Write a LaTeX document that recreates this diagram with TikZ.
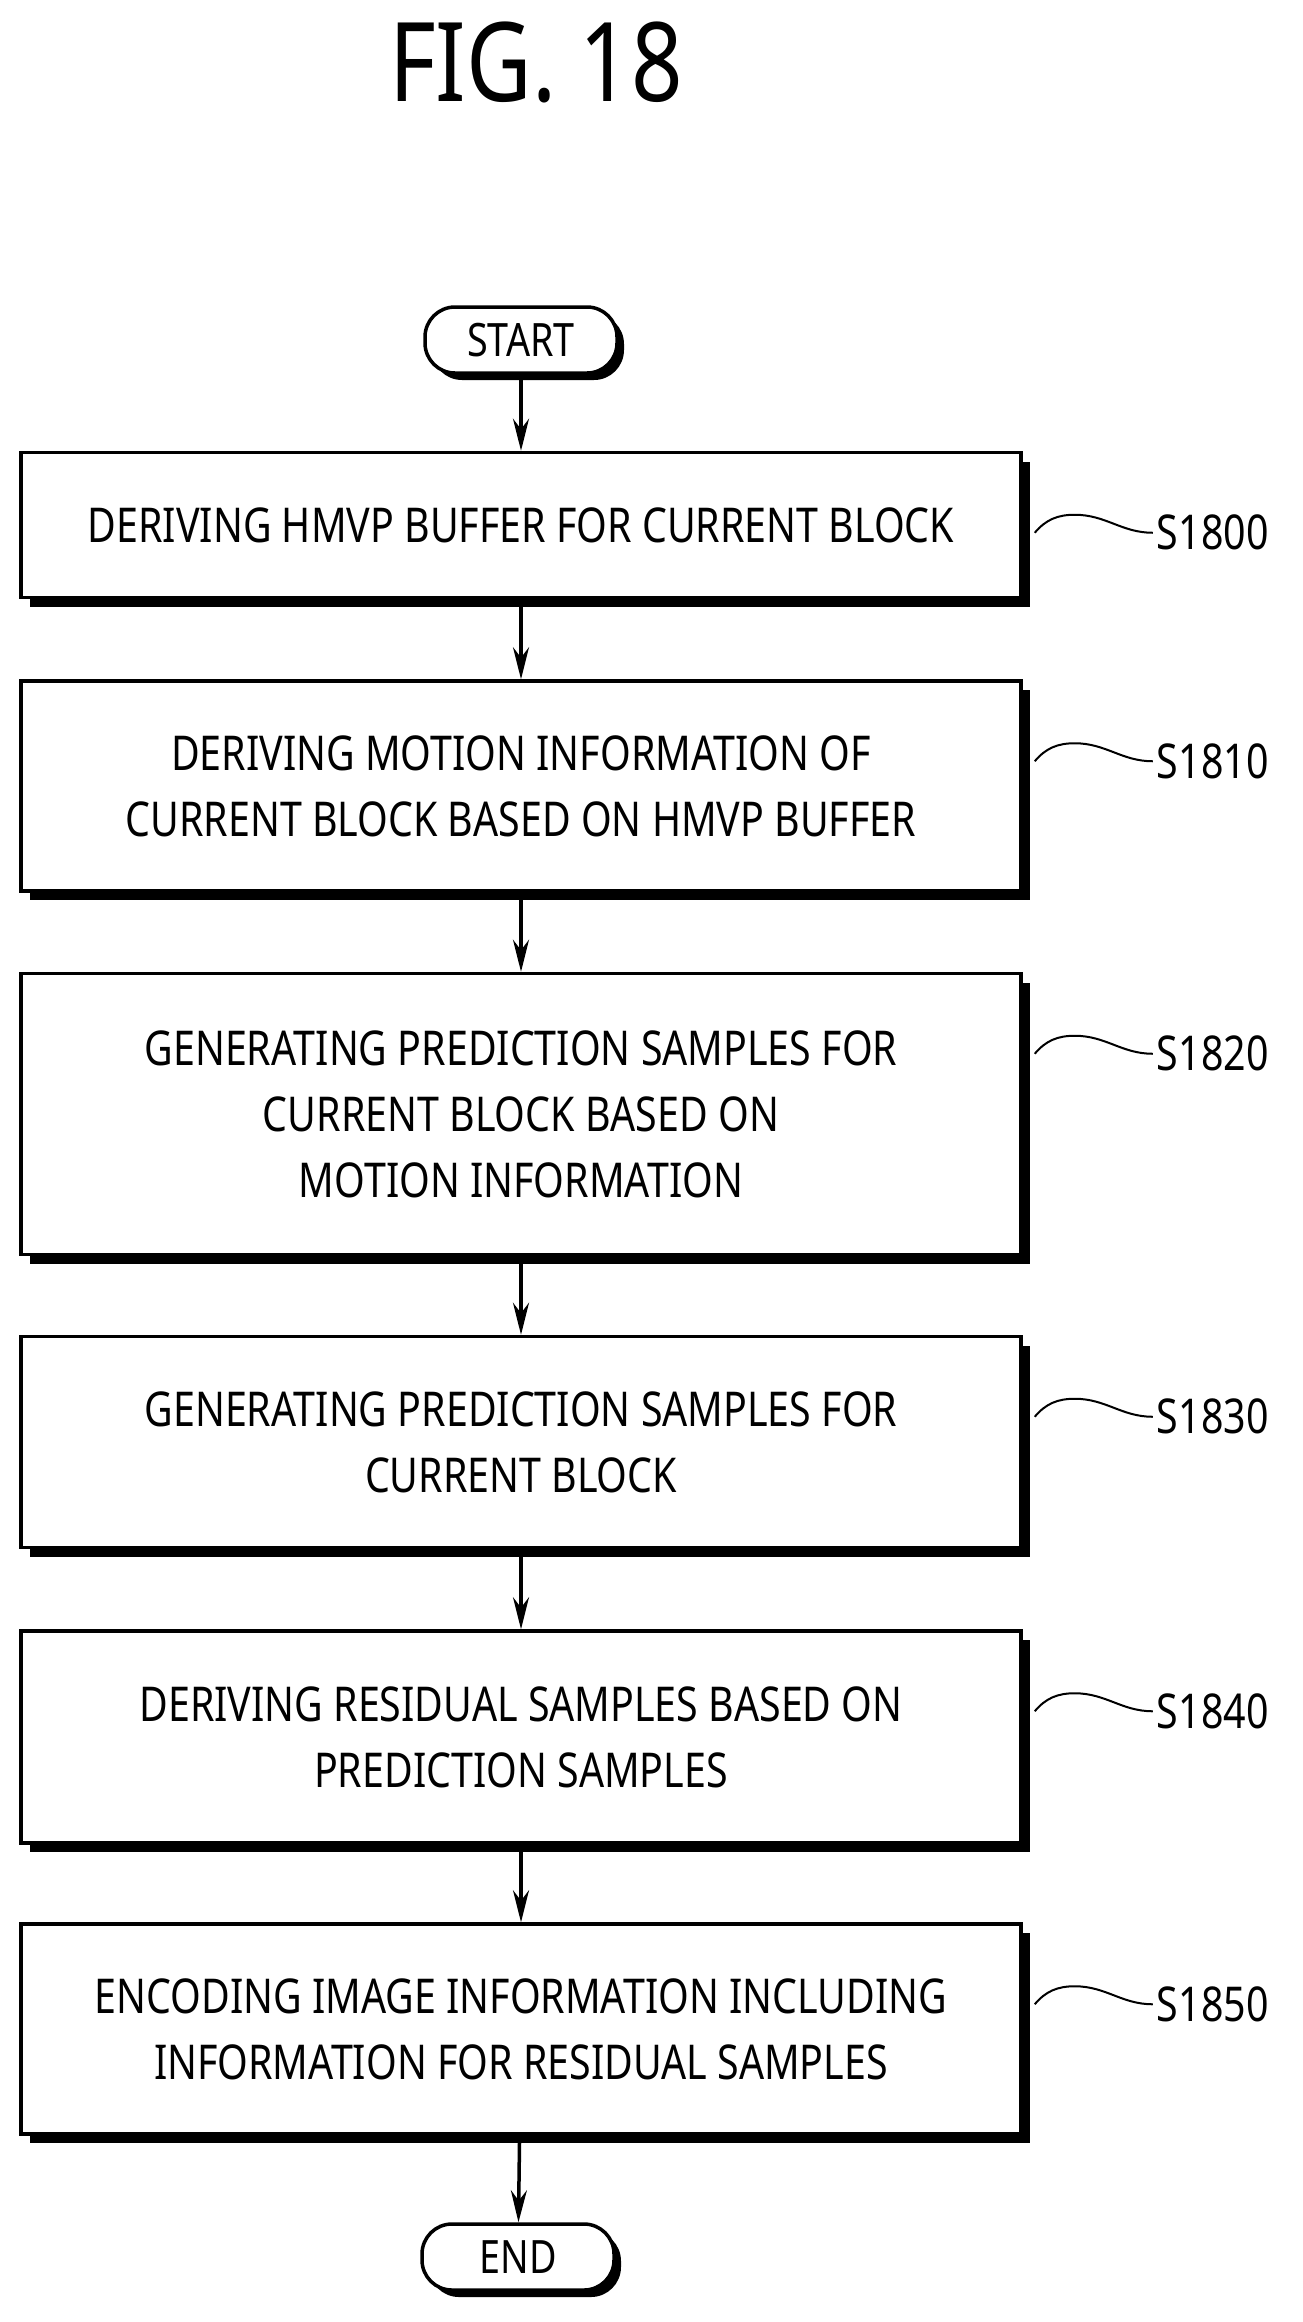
\documentclass[tikz,border=0pt]{standalone}
\usepackage{fontspec}
\setmainfont{Noto Sans}[FakeStretch=0.82]
\usetikzlibrary{arrows.meta,shadows,positioning}

\tikzset{
  stepbox/.style={draw,line width=3.5pt,fill=white,minimum width=1000pt,align=center,
    font=\fontsize{48}{66}\selectfont,
    drop shadow={shadow xshift=9pt,shadow yshift=-9pt,fill=black,opacity=1}},
  term/.style={draw,line width=3.5pt,fill=white,rounded corners=30pt,minimum width=192pt,
    minimum height=66pt,font=\fontsize{46}{50}\selectfont,
    drop shadow={shadow xshift=7pt,shadow yshift=-7pt,fill=black,opacity=1}},
  flow/.style={line width=3.5pt,-{Stealth[length=32pt,width=16pt]}},
  tag/.style={font=\fontsize{48}{50}\selectfont,anchor=west,inner sep=4pt},
  wave/.style={line width=2pt}
}

\begin{document}
\begin{tikzpicture}[x=1pt,y=1pt]
 \useasboundingbox (0,0) rectangle (1302,-2322);
 \node[font=\fontsize{110}{120}\selectfont] (title) at (536,-62) {FIG. 18};

 \node[term] (start) at (521,-340) {START};
 \node[stepbox,minimum height=145pt] (s0) at (521,-525) {DERIVING HMVP BUFFER FOR CURRENT BLOCK};
 \node[stepbox,minimum height=210pt] (s1) at (521,-786) {DERIVING MOTION INFORMATION OF\\CURRENT BLOCK BASED ON HMVP BUFFER};
 \node[stepbox,minimum height=281pt] (s2) at (521,-1114) {GENERATING PREDICTION SAMPLES FOR\\CURRENT BLOCK BASED ON\\MOTION INFORMATION};
 \node[stepbox,minimum height=211pt] (s3) at (521,-1442) {GENERATING PREDICTION SAMPLES FOR\\CURRENT BLOCK};
 \node[stepbox,minimum height=212pt] (s4) at (521,-1737) {DERIVING RESIDUAL SAMPLES BASED ON\\PREDICTION SAMPLES};
 \node[stepbox,minimum height=210pt] (s5) at (521,-2029) {ENCODING IMAGE INFORMATION INCLUDING\\INFORMATION FOR RESIDUAL SAMPLES};
 \node[term] (end) at (518,-2257) {END};

 \draw[flow] (start) -- (s0);
 \draw[flow] (s0) -- (s1);
 \draw[flow] (s1) -- (s2);
 \draw[flow] (s2) -- (s3);
 \draw[flow] (s3) -- (s4);
 \draw[flow] (s4) -- (s5);
 \draw[flow] (s5) -- (end);

 % step labels
 \foreach \n/\t in {s0/S1800,s1/S1810,s2/S1820,s3/S1830,s4/S1840,s5/S1850}{
   \node[tag] (t\n) at ([xshift=130pt,yshift=-82pt]\n.north east) {\t};
   \coordinate (w\n) at ([xshift=12pt,yshift=-82pt]\n.north east);
   \draw[wave] (w\n) to[out=50,in=180] ++(40,18) to[out=0,in=180] (t\n.west);
 }
\end{tikzpicture}
\end{document}
